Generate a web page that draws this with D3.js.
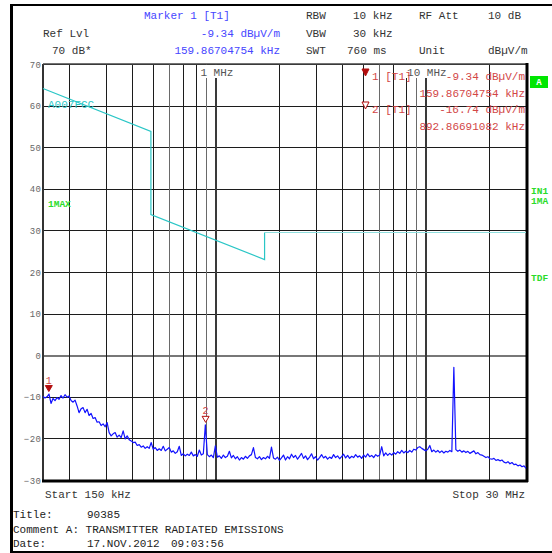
<!DOCTYPE html>
<html>
<head>
<meta charset="utf-8">
<script src="https://cdn.jsdelivr.net/npm/d3@7"></script>
<style>
  html, body { margin: 0; padding: 0; background: #fff; }
  svg { display: block; }
  text { font-family: "Liberation Mono", "DejaVu Sans Mono", monospace; }
</style>
</head>
<body>
<svg id="chart" width="552" height="553"></svg>
<script>
// ---- sweep settings ----
const startFreq = 150e3;
const stopFreq = 30e6;
const refLevel = 70;
const bottomLevel = -30;

// ---- axis ticks ----
const levelTicks = [70, 60, 50, 40, 30, 20, 10, 0, -10, -20, -30];
const freqGrid = [200e3, 300e3, 400e3, 500e3, 600e3, 700e3, 800e3, 900e3,
                  1e6, 2e6, 3e6, 4e6, 5e6, 6e6, 7e6, 8e6, 9e6, 10e6, 20e6];
const decadeFreqs = [1e6, 10e6];
const decadeLabels = ["1 MHz", "10 MHz"];

// ---- limit line (A007FCC) ----
const limitFreq  = [150e3, 490e3, 490e3, 1.705e6, 1.705e6, 30e6];
const limitLevel = [64.1, 53.8, 33.8, 23.0, 29.5, 29.5];

// ---- trace 1 (max hold), levels in dBµV/m at equally log-spaced sweep points ----
const traceLevel = [
  -9.9, -10.3, -10.0, -9.34, -11.6, -10.4, -10.9, -10.2, -10.6, -9.7,
  -10.3, -9.5, -10.1, -9.8, -10.9, -11.3, -10.8, -12.2, -13.8, -12.9,
  -12.6, -13.8, -13.0, -14.5, -14.0, -15.2, -15.0, -16.1, -16.0, -16.9,
  -16.5, -17.2, -16.2, -18.6, -19.4, -18.9, -18.6, -19.7, -19.2, -19.8,
  -18.2, -20.1, -19.4, -20.3, -20.6, -21.0, -20.9, -21.7, -21.5, -22.1,
  -21.8, -22.4, -22.0, -22.4, -21.0, -22.6, -22.2, -22.9, -22.5, -22.9,
  -21.9, -23.0, -22.6, -22.2, -23.3, -23.0, -23.6, -23.2, -21.9, -24.1,
  -23.7, -24.2, -23.8, -24.1, -23.3, -24.2, -23.9, -24.3, -22.8, -24.0,
  -23.7, -16.74, -23.9, -24.4, -24.0, -24.6, -21.8, -24.5, -24.2, -24.8,
  -24.0, -24.6, -24.3, -23.1, -24.7, -24.1, -24.9, -24.4, -25.2, -24.6,
  -25.0, -24.3, -24.8, -24.2, -23.9, -22.2, -24.6, -24.9, -24.4, -25.1,
  -24.6, -24.9, -24.3, -24.8, -22.1, -24.7, -25.0, -24.5, -25.3, -24.7,
  -24.0, -25.2, -24.4, -24.9, -23.8, -24.6, -24.1, -25.0, -24.3, -23.6,
  -24.8, -24.2, -25.1, -24.5, -23.7, -24.9, -24.4, -25.2, -24.6, -23.9,
  -24.7, -24.3, -25.0, -24.5, -24.8, -23.9, -24.6, -24.2, -24.9, -24.4,
  -23.8, -24.7, -24.1, -24.8, -24.3, -24.6, -23.9, -24.5, -24.2, -24.8,
  -24.0, -24.5, -23.7, -24.4, -24.1, -24.6, -23.9, -24.3, -24.0, -22.0,
  -24.2, -23.5, -24.1, -23.6, -24.0, -23.4, -23.8, -23.2, -23.6, -22.9,
  -23.5, -23.1, -23.4, -22.9, -23.3, -22.6, -22.8, -22.2, -22.0, -22.4,
  -22.7, -23.0, -22.6, -21.7, -23.2, -22.8, -23.3, -22.9, -23.4, -23.0,
  -23.5, -23.1, -23.3, -22.9, -23.2, -2.9, -22.7, -23.1, -22.8, -23.3,
  -23.0, -23.4, -23.1, -23.6, -23.3, -23.0, -23.7, -23.4, -23.9, -24.0,
  -24.3, -24.6, -24.4, -24.9, -25.0, -24.8, -25.3, -25.1, -25.4, -25.2,
  -25.7, -25.9, -25.6, -26.1, -25.8, -26.3, -26.2, -26.6, -26.4, -26.8,
  -26.6, -27.2
];

// ---- markers ----
const markerFreq  = [159.86704754e3, 892.86691082e3];
const markerLevel = [-9.34, -16.74];
const markerFreqText  = ["159.86704754 kHz", "892.86691082 kHz"];
const markerLevelText = ["-9.34 dB\u00b5V/m", "-16.74 dB\u00b5V/m"];

// ---- colours ----
const C = {
  frame: "#000",
  grid: "#1c1c1c",
  gridLight: "#6a6a6a",
  tickText: "#666",
  head: "#333",
  headBlue: "#4646ff",
  trace: "#1212ff",
  limit: "#2ac6c6",
  marker: "#d24646",
  markerFill: "#b30d0d",
  green: "#2adc2a"
};

const svg = d3.select("#chart");

// plot area
const L = 43, R = 526, T = 64, B = 480;
const x = d3.scaleLog().domain([startFreq, stopFreq]).range([L, R]);
const y = d3.scaleLinear().domain([bottomLevel, refLevel]).range([B, T]);

// outer frame
svg.append("rect").attr("x", 10).attr("y", 4).attr("width", 3).attr("height", 549).attr("fill", C.frame);
svg.append("rect").attr("x", 10).attr("y", 4).attr("width", 542).attr("height", 2).attr("fill", C.frame);
svg.append("rect").attr("x", 10).attr("y", 551).attr("width", 542).attr("height", 2).attr("fill", C.frame);

// ---- header ----
function headText(tx, ty, s, col, anchor) {
  svg.append("text").attr("x", tx).attr("y", ty)
    .attr("font-size", 11).attr("fill", col || C.head)
    .attr("text-anchor", anchor || "start").text(s);
}
headText(144, 19, "Marker 1 [T1]", C.headBlue);
headText(306, 19, "RBW");
headText(353, 19, "10 kHz");
headText(419, 19, "RF Att");
headText(488, 19, "10 dB");
headText(43, 37, "Ref Lvl");
headText(280, 37, markerLevelText[0], C.headBlue, "end");
headText(306, 37, "VBW");
headText(353, 37, "30 kHz");
headText(52, 54, "70 dB*");
headText(280, 54, markerFreqText[0], C.headBlue, "end");
headText(306, 54, "SWT");
headText(347, 54, "760 ms");
headText(419, 54, "Unit");
headText(488, 54, "dB\u00b5V/m");

// ---- grid via axes ----
const yGrid = svg.append("g").attr("transform", `translate(${L},0)`)
  .call(d3.axisLeft(y).tickValues(levelTicks).tickSize(-(R - L)).tickPadding(2)
        .tickFormat(d3.format("d")));
yGrid.select(".domain").remove();
yGrid.selectAll(".tick line").attr("stroke", d => d === 0 ? "#777" : C.grid)
  .attr("stroke-width", d => d === 0 ? 1.6 : 1).attr("shape-rendering", "crispEdges");
yGrid.selectAll(".tick text").attr("fill", C.tickText)
  .attr("font-family", "DejaVu Sans, sans-serif").attr("font-size", 9)
  .attr("letter-spacing", 0.5).attr("dy", "0.35em").attr("x", -1.5);

const xGrid = svg.append("g").attr("transform", `translate(0,${B})`)
  .call(d3.axisBottom(x).tickValues(freqGrid).tickSize(-(B - T)).tickFormat(""));
xGrid.select(".domain").remove();
const lightGrid = new Set([600e3, 900e3, 6e6, 9e6]);
xGrid.selectAll(".tick line")
  .attr("stroke", d => lightGrid.has(d) ? C.gridLight : (decadeFreqs.includes(d) ? "#3a3a3a" : C.grid))
  .attr("stroke-width", d => decadeFreqs.includes(d) ? 2 : 1)
  .attr("shape-rendering", "crispEdges");

// plot border
svg.append("line").attr("x1", L).attr("x2", L).attr("y1", T).attr("y2", B + 1)
  .attr("stroke", "#333").attr("stroke-width", 2);
svg.append("line").attr("x1", L).attr("x2", R).attr("y1", T).attr("y2", T)
  .attr("stroke", "#444").attr("stroke-width", 1.6);
svg.append("line").attr("x1", L - 1).attr("x2", R + 2).attr("y1", B + 1).attr("y2", B + 1)
  .attr("stroke", C.frame).attr("stroke-width", 3);
svg.append("line").attr("x1", R + 1).attr("x2", R + 1).attr("y1", T - 1).attr("y2", B + 2)
  .attr("stroke", C.frame).attr("stroke-width", 3);

// decade labels with white background
decadeFreqs.forEach((f, i) => {
  const cx = x(f) + 1;
  const w = decadeLabels[i].length * 6.6 + 4;
  svg.append("rect").attr("x", cx - w / 2).attr("y", 65).attr("width", w).attr("height", 13).attr("fill", "#fff");
  svg.append("text").attr("x", cx).attr("y", 76).attr("text-anchor", "middle")
    .attr("font-size", 11).attr("fill", "#555").text(decadeLabels[i]);
});

// ---- limit line ----
const limitData = limitFreq.map((f, i) => [f, limitLevel[i]]);
const lineGen = d3.line().x(d => x(d[0])).y(d => y(d[1]));
svg.append("path").datum(limitData.slice(0, 5)).attr("d", lineGen)
  .attr("fill", "none").attr("stroke", C.limit).attr("stroke-width", 1.2);
svg.append("path").datum(limitData.slice(4)).attr("d", lineGen)
  .attr("fill", "none").attr("stroke", "#8fdede").attr("stroke-width", 1.2);

// ---- trace ----
const N = traceLevel.length;
const traceData = traceLevel.map((v, i) => [
  Math.exp(Math.log(startFreq) + (Math.log(stopFreq) - Math.log(startFreq)) * i / (N - 1)), v]);
svg.append("path").datum(traceData).attr("d", lineGen)
  .attr("fill", "none").attr("stroke", C.trace).attr("stroke-width", 1.2)
  .attr("stroke-linejoin", "round");

// ---- trace labels ----
function greenText(tx, ty, s, size) {
  svg.append("text").attr("x", tx).attr("y", ty).attr("font-size", size || 9.5)
    .attr("font-weight", "bold").attr("fill", C.green).text(s);
}
svg.append("text").attr("x", 48).attr("y", 108).attr("font-size", 11)
  .attr("fill", C.limit).text("A007FCC");
greenText(48, 206.5, "1MAX");
svg.append("rect").attr("x", 530).attr("y", 76).attr("width", 18).attr("height", 12).attr("fill", "#00e600");
svg.append("text").attr("x", 539).attr("y", 85).attr("text-anchor", "middle").attr("font-size", 9)
  .attr("font-weight", "bold").attr("fill", "#fff").text("A");
greenText(531, 193.5, "IN1");
greenText(531, 203.5, "1MA");
greenText(531, 280.5, "TDF");

// ---- markers on the trace ----
markerFreq.forEach((f, i) => {
  const mx = x(f), my = y(markerLevel[i]) - 2.5;
  const tri = `M${mx - 3.5},${my - 6}L${mx + 3.5},${my - 6}L${mx},${my}Z`;
  svg.append("path").attr("d", tri)
    .attr("fill", i === 0 ? C.markerFill : "#fff")
    .attr("stroke", C.markerFill).attr("stroke-width", 1);
  svg.append("text").attr("x", mx).attr("y", my - 8).attr("text-anchor", "middle")
    .attr("font-size", 10).attr("fill", C.marker).text(String(i + 1));
});

// ---- marker info block ----
markerFreq.forEach((f, i) => {
  const ty = 80 + i * 33;
  const tx = 365.5;
  const tri = `M${tx - 3.5},${ty - 11}L${tx + 3.5},${ty - 11}L${tx},${ty - 4}Z`;
  svg.append("path").attr("d", tri)
    .attr("fill", i === 0 ? C.markerFill : "#fff")
    .attr("stroke", C.markerFill).attr("stroke-width", 1);
  svg.append("text").attr("x", 372).attr("y", ty).attr("font-size", 11)
    .attr("fill", C.marker).text(`${i + 1} [T1]`);
  svg.append("text").attr("x", 525).attr("y", ty).attr("font-size", 11)
    .attr("text-anchor", "end").attr("fill", C.marker).text(markerLevelText[i]);
  svg.append("text").attr("x", 525).attr("y", ty + 17).attr("font-size", 11)
    .attr("text-anchor", "end").attr("fill", C.marker).text(markerFreqText[i]);
});

// ---- span labels ----
headText(45, 498, "Start 150 kHz");
headText(525, 498, "Stop 30 MHz", C.head, "end");

// ---- title block ----
headText(13, 518, "Title:", "#222");
headText(87, 518, "90385", "#222");
headText(13, 533, "Comment A: TRANSMITTER RADIATED EMISSIONS", "#222");
headText(13, 547, "Date:", "#222");
headText(87, 547, "17.NOV.2012", "#222");
headText(171, 547, "09:03:56", "#222");
</script>
</body>
</html>
